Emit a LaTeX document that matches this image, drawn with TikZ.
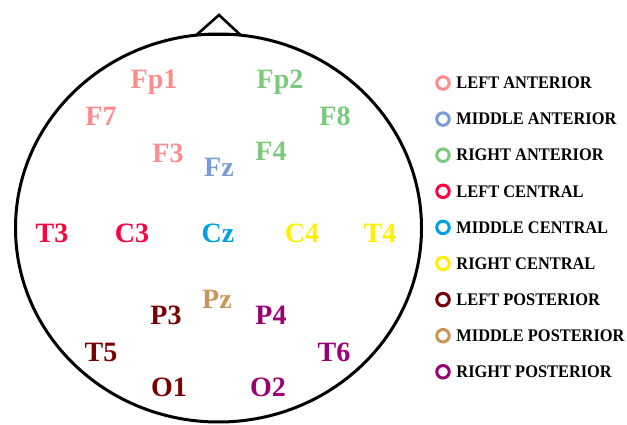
\documentclass[tikz,border=0pt]{standalone}
\usepackage{fontspec}
\setmainfont{Liberation Serif}
\usetikzlibrary{positioning}
\definecolor{lant}{RGB}{255,140,140}
\definecolor{mant}{RGB}{122,155,214}
\definecolor{rant}{RGB}{124,200,124}
\definecolor{lcen}{RGB}{255,0,64}
\definecolor{mcen}{RGB}{0,160,233}
\definecolor{rcen}{RGB}{255,240,0}
\definecolor{lpos}{RGB}{120,0,0}
\definecolor{mpos}{RGB}{200,148,88}
\definecolor{rpos}{RGB}{155,0,115}
\tikzset{
  elec/.style={font=\fontsize{28}{28}\selectfont\bfseries, anchor=base, inner sep=0pt},
  ring/.style={circle, draw, line width=3pt, minimum size=12.5pt, inner sep=0pt},
  legtxt/.style={font=\fontsize{16.4}{16.4}\selectfont\bfseries, inner sep=0pt},
}

\begin{document}
\begin{tikzpicture}[
  x=1pt, y=-1pt,
  head/.style={line width=3pt},
]
\useasboundingbox (0,0) rectangle (627,425);
% head and nose
\draw[head] (218.5,228) ellipse [x radius=203, y radius=194];
\draw[line width=2.6pt] (197,34.5) -- (219,15) -- (240,34.5) -- cycle;

% electrodes
\node[elec, lant] (fp1) at (154,89) {Fp1};
\node[elec, rant] (fp2) at (280,89) {Fp2};
\node[elec, lant] (f7) at (101,126) {F7};
\node[elec, rant] (f8) at (335,126) {F8};
\node[elec, lant] (f3) at (168,163) {F3};
\node[elec, mant] (fz) at (219,177) {Fz};
\node[elec, rant] (f4) at (271,161) {F4};
\node[elec, lcen] (t3) at (52,243) {T3};
\node[elec, lcen] (c3) at (132,243) {C3};
\node[elec, mcen] (cz) at (218,243) {Cz};
\node[elec, rcen] (c4) at (302,243) {C4};
\node[elec, rcen] (t4) at (380,243) {T4};
\node[elec, mpos] (pz) at (217,308) {Pz};
\node[elec, lpos] (p3) at (166,324) {P3};
\node[elec, rpos] (p4) at (271,324) {P4};
\node[elec, lpos] (t5) at (101,361) {T5};
\node[elec, rpos] (t6) at (334,361) {T6};
\node[elec, lpos] (o1) at (169,396) {O1};
\node[elec, rpos] (o2) at (268,396) {O2};

% legend
\foreach \col/\txt [count=\i from 0] in {
  lant/LEFT ANTERIOR, mant/MIDDLE ANTERIOR, rant/RIGHT ANTERIOR,
  lcen/LEFT CENTRAL, mcen/MIDDLE CENTRAL, rcen/RIGHT CENTRAL,
  lpos/LEFT POSTERIOR, mpos/MIDDLE POSTERIOR, rpos/RIGHT POSTERIOR} {
  \node[ring, draw=\col] (ring\i) at (443,{83+36.1*\i}) {};
  \node[legtxt, right=5.5pt of ring\i] (leg\i) {\scalebox{1}[1.08]{\txt}};
}
\end{tikzpicture}
\end{document}
